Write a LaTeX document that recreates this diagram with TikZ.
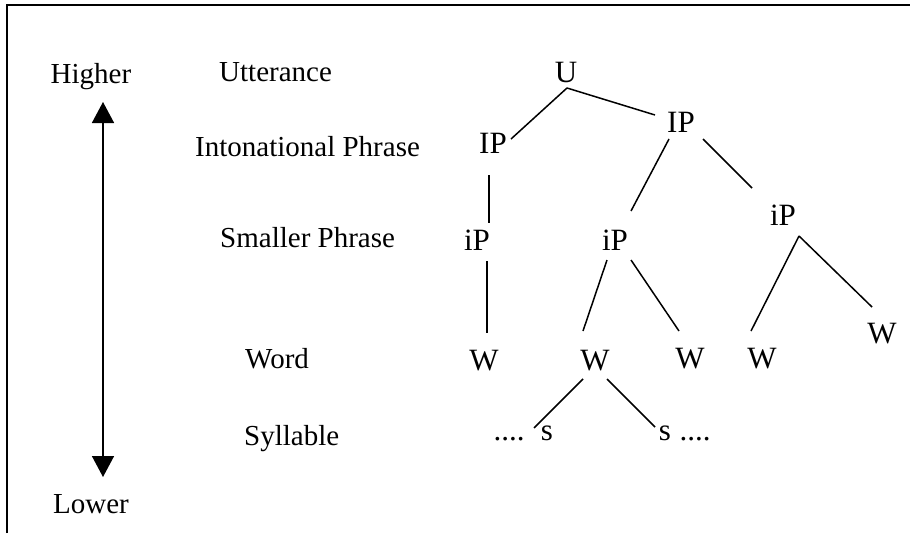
\documentclass[tikz,border=0pt]{standalone}
\usepackage{fontspec}
\setmainfont{Liberation Serif}
\usetikzlibrary{calc,arrows.meta}
\begin{document}
\begin{tikzpicture}[x=1pt,y=-1pt,
  lbl/.style={anchor=base west,inner sep=0pt,font=\fontsize{29}{34}\selectfont},
  tn/.style={anchor=base,inner sep=0pt,font=\fontsize{31}{36}\selectfont},
  edge/.style={line width=1.5pt},
  frame/.style={line width=2pt}]
\useasboundingbox (0,0) rectangle (910,533);
\draw[frame] (7,533) -- (7,5) -- (910,5);
% level labels
\node[lbl,anchor=base] (Higher) at (91,83) {Higher};
\node[lbl,anchor=base] (Lower) at (91,513) {Lower};
\node[lbl] (lU) at (219,81) {Utterance};
\node[lbl] (lIP) at (195,156) {Intonational Phrase};
\node[lbl] (liP) at (220,247) {Smaller Phrase};
\node[lbl] (lW) at (245,368) {Word};
\node[lbl] (lS) at (244,445) {Syllable};
\draw[line width=1.5pt,{Triangle[length=21pt,width=22pt]}-{Triangle[length=21pt,width=22pt]}]
  ($(Higher.base)+(12,19)$) -- ($(Lower.base)+(12,-36)$);
% tree nodes
\node[tn] (U) at (566,82) {U};
\node[tn] (IPl) at (493,153) {IP};
\node[tn] (IPr) at (681,132) {IP};
\node[tn] (iPl) at (477,250) {iP};
\node[tn] (iPm) at (615,250) {iP};
\node[tn] (iPr) at (783,225) {iP};
\node[tn] (W1) at (484,370) {W};
\node[tn] (W2) at (595,370) {W};
\node[tn] (W3) at (690,368) {W};
\node[tn] (W4) at (762,368) {W};
\node[tn] (W5) at (882,343) {W};
\node[tn] (s1) at (547,440) {s};
\node[tn] (s2) at (665,440) {s};
\node[tn] (d1) at (509,440) {....};
\node[tn] (d2) at (695,440) {....};
% connectors
\draw[edge] ($(U.base)+(1,6)$) -- ($(IPl.base)+(18,-14)$);
\draw[edge] ($(U.base)+(1,6)$) -- ($(IPr.base)+(-26,-17)$);
\draw[edge] ($(IPl.base)+(-4,22)$) -- ($(iPl.base)+(12,-27)$);
\draw[edge] ($(IPr.base)+(-12,7)$) -- ($(iPm.base)+(16,-39)$);
\draw[edge] ($(IPr.base)+(22,7)$) -- ($(iPr.base)+(-31,-37)$);
\draw[edge] ($(iPl.base)+(10,11)$) -- ($(W1.base)+(3,-37)$);
\draw[edge] ($(iPm.base)+(-8,10)$) -- ($(W2.base)+(-12,-39)$);
\draw[edge] ($(iPm.base)+(16,10)$) -- ($(W3.base)+(-11,-37)$);
\draw[edge] ($(iPr.base)+(16,11)$) -- ($(W4.base)+(-11,-37)$);
\draw[edge] ($(iPr.base)+(16,11)$) -- ($(W5.base)+(-10,-36)$);
\draw[edge] ($(W2.base)+(-12,9)$) -- ($(s1.base)+(-13,-12)$);
\draw[edge] ($(W2.base)+(12,9)$) -- ($(s2.base)+(-10,-13)$);
\end{tikzpicture}
\end{document}
